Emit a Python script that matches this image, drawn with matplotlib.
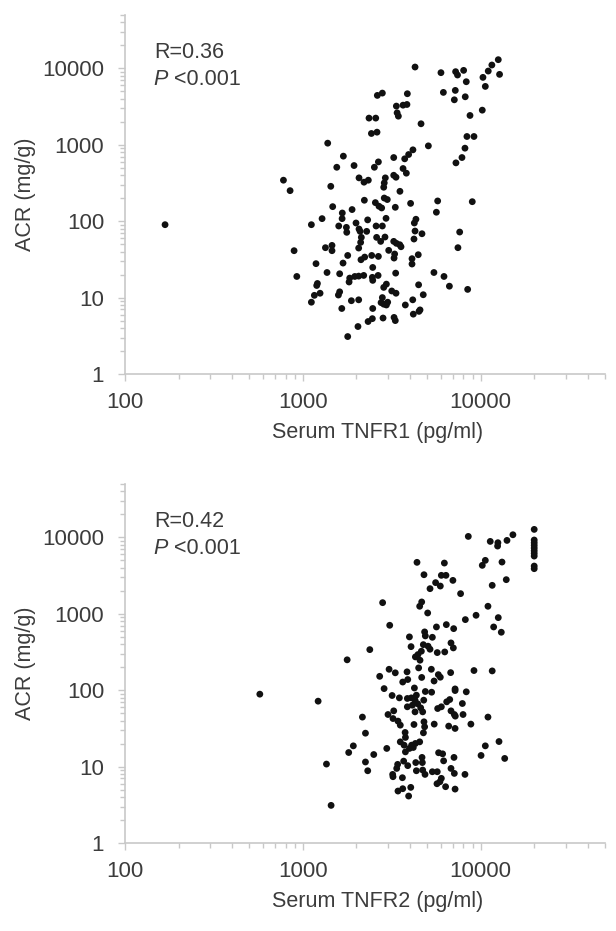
import matplotlib
matplotlib.use('Agg')
import matplotlib.pyplot as plt
from matplotlib.ticker import FixedLocator, LogLocator, NullFormatter

plt.rcParams['font.family'] = ['Liberation Sans', 'DejaVu Sans']

TEXT_COLOR = '#3c3c3c'
AXIS_COLOR = '#c8c8c8'

# serum TNFR1 (pg/ml) vs ACR (mg/g)
tnfr1 = [168, 778, 848, 893, 925,
         1117, 1117, 1161, 1197, 1208, 1250, 1186, 1283, 1340, 1368, 1380, 1436, 1459, 1459, 1472,
         1552, 1585, 1592, 1611, 1611, 1656, 1663, 1667, 1683, 1690, 1758, 1766, 1788, 1788, 1820,
         1835, 1875, 1892, 1941, 1960, 1991,
         2042, 2061, 2061, 2061, 2070, 2070, 2099, 2114, 2123, 2133, 2200, 2208, 2218, 2228, 2286,
         2315, 2328, 2335, 2356,
         2430, 2440, 2460, 2460, 2472, 2472, 2472, 2525, 2558, 2570, 2582, 2600, 2613, 2624, 2650,
         2660, 2660, 2680, 2740, 2754, 2775, 2800, 2800, 2800, 2825, 2850, 2850, 2850, 2870, 2870,
         2897, 2910, 2937, 2950, 2950, 2985, 3000,
         3040, 3162, 3244, 3244, 3244, 3258, 3258, 3283, 3311, 3311, 3327, 3342, 3342, 3357, 3357,
         3390, 3445, 3508, 3516, 3565, 3660, 3660, 3740, 3770, 3820, 3850, 3870, 3935,
         4036, 4111, 4111, 4150, 4160, 4180, 4217, 4236, 4276, 4276, 4325, 4457, 4477, 4500, 4560,
         4620, 4677, 4755, 5080, 5460, 5636, 5730, 5980,
         6170, 6220, 6670, 7110, 7200, 7230, 7260, 7410, 7450, 7620, 7850, 8020, 8160, 8190, 8300,
         8370, 8450, 8710, 8970, 9170,
         10210, 10300, 10620, 11030, 11560, 12560, 12770]
acr1 = [90, 344, 251, 41.1, 18.9,
        90, 8.7, 10.7, 14.4, 15.3, 11.4, 27.8, 108, 45, 21.3, 1050, 286, 48.2, 41.1, 155,
        508, 10.8, 86.5, 20.5, 11.9, 7.2, 108, 128, 28.3, 710, 83, 71.5, 35.6, 3.09, 16.0,
        18.0, 9.1, 142, 535, 18.9, 94.7,
        4.18, 44.5, 19.1, 9.35, 369, 79, 73.6, 52.8, 31.3, 61.4, 19.5, 324, 188, 33.9, 73.6,
        104, 4.86, 344, 2235,
        1406, 35.6, 18.4, 5.3, 24.8, 16.8, 7.2, 508, 175, 2235, 86.5, 61.4, 1463, 4430, 19.5,
        597, 34.6, 157, 54.4, 8.6, 149, 4750, 86.5, 10.0, 5.4, 278, 13.6, 8.2, 317, 201,
        62, 369, 109, 15.0, 8.0, 192, 8.7,
        41.5, 12.2, 681, 399, 54.4, 32.9, 5.5, 37.2, 152, 5.0, 20.9, 376, 11.4, 3210, 51.3,
        2620, 2370, 49.2, 246, 46.3, 3300, 489, 655, 8.0, 425, 3370, 4660, 746,
        171, 32.3, 27.5, 9.35, 859, 6.07, 58.4, 94.7, 10420, 74.3, 106, 36.4, 14.7, 6.6, 6.9,
        1884, 68.5, 10.9, 968, 21.3, 131, 184, 8790,
        4850, 18.9, 14.1, 3880, 5150, 9060, 580, 8190, 45, 72.1, 681, 9420, 903, 4250, 6690,
        1284, 12.8, 2420, 180, 1284,
        2840, 7630, 5810, 9230, 11070, 13000, 8350]

# serum TNFR2 (pg/ml) vs ACR (mg/g)
tnfr2 = [573, 1219, 1358, 1442, 1775, 1811, 1923,
         2163, 2250, 2250, 2317, 2380, 2505, 2705, 2810, 2864, 2965,
         3013, 3055, 3080, 3177, 3200, 3214, 3214, 3244, 3310, 3372, 3413, 3428, 3428, 3490,
         3532, 3532, 3630, 3645, 3645, 3690, 3710, 3760, 3775, 3775, 3855, 3870, 3870, 3890,
         3890, 3935, 3975, 3975,
         4045, 4060, 4075, 4090, 4130, 4180, 4217, 4240, 4275, 4275, 4295, 4295, 4315, 4350,
         4350, 4385, 4425, 4440, 4480, 4540, 4540, 4560, 4600, 4640, 4660, 4660, 4680, 4700,
         4720, 4720, 4760, 4765, 4785, 4800, 4800, 4840, 4840, 4865, 4885, 4885,
         5035, 5060, 5190, 5190, 5280, 5300, 5350, 5350, 5470, 5480, 5580, 5640, 5680, 5700,
         5700, 5730, 5780, 5800, 5900, 5930, 5930,
         6010, 6010, 6010, 6110, 6190, 6250, 6280, 6350, 6380, 6410, 6440, 6610, 6700, 6780,
         6810, 6810, 6810, 6980, 7020, 7050, 7080, 7110, 7110, 7180, 7180, 7180, 7180, 7200,
         7710, 7890, 7960,
         8160, 8200, 8300, 8520, 8810, 9170, 9420,
         10050, 10210, 10620, 10620, 10990, 10990, 11320, 11610, 11610, 11830, 12450, 12500,
         12560, 12680, 13060, 13180, 13650, 13930, 14060, 15180,
         20000, 20000, 20000, 20000, 20000, 20000, 20000, 20000, 20000, 20000]
acr2 = [88.8, 71.9, 10.8, 3.11, 250, 15.3, 18.7,
        44.5, 27.4, 11.5, 8.83, 340, 14.4, 152, 1400, 105, 17.3,
        48.1, 188, 708, 85.3, 7.91, 42.6, 7.38, 53.7, 169, 9.47, 10.7, 39.4, 4.79, 79.4,
        34.9, 21.1, 7.16, 128, 5.14, 11.8, 19.1, 28.0, 24.1, 15.6, 174, 78, 60.7, 138,
        10.3, 4.12, 499, 17.3,
        5.35, 372, 79.4, 19.1, 63.7, 17.8, 35.6, 107, 74.1, 52.1, 273, 20.1, 11.3, 86.1,
        8.83, 4720, 66.4, 293, 196, 1256, 21.1, 247, 58.8, 324, 1430, 147, 13.2, 11.3,
        52.1, 9.02, 395, 27.7, 74.1, 3250, 38.6, 580, 33.2, 7.91, 514, 96.2,
        1026, 377, 2135, 344, 188, 94.2, 493, 8.57, 132, 36, 2560, 673, 5.97, 311,
        8.57, 57.6, 160, 15.2, 6.34, 2310, 148,
        3190, 60.7, 7.02, 14.7, 11.9, 4620, 317, 5.46, 3190, 722, 70.5, 33.9, 75.5, 170,
        416, 53.7, 9.47, 2740, 358, 640, 13.2, 48.1, 8.15, 104, 99, 31.6, 5.08, 45.8,
        1837, 67, 48.1,
        7.91, 840, 95.3, 10310, 36, 181, 957,
        14.0, 4310, 5010, 18.7, 1256, 44.5, 8870, 2360, 179, 673, 7710, 8530,
        892, 21.3, 574, 4760, 12.8, 2800, 9140, 10840,
        12740, 9250, 8530, 7870, 7260, 6700, 6180, 5700, 4220, 3900]

x_ticks = [100, 1000, 10000]
y_ticks = [1, 10, 100, 1000, 10000]


def draw_panel(ax, x, y, xlabel, r_text):
    ax.scatter(x, y, s=24, color='#111111', edgecolors='none', zorder=3)
    ax.set_xscale('log')
    ax.set_yscale('log')
    ax.set_xlim(100, 50000)
    ax.set_ylim(1, 50000)

    ax.xaxis.set_major_locator(FixedLocator(x_ticks))
    ax.set_xticklabels([str(t) for t in x_ticks])
    ax.yaxis.set_major_locator(FixedLocator(y_ticks))
    ax.set_yticklabels([str(t) for t in y_ticks])
    ax.xaxis.set_minor_locator(LogLocator(base=10, subs=range(2, 10)))
    ax.yaxis.set_minor_locator(LogLocator(base=10, subs=range(2, 10)))
    ax.xaxis.set_minor_formatter(NullFormatter())
    ax.yaxis.set_minor_formatter(NullFormatter())

    for side in ['top', 'right']:
        ax.spines[side].set_visible(False)
    for side in ['left', 'bottom']:
        ax.spines[side].set_color(AXIS_COLOR)
        ax.spines[side].set_linewidth(1.2)

    ax.tick_params(which='major', length=5, width=1, color=AXIS_COLOR,
                   labelsize=16, labelcolor=TEXT_COLOR)
    ax.tick_params(which='minor', length=3.5, width=1, color=AXIS_COLOR)
    ax.tick_params(axis='y', which='major', pad=10)
    ax.tick_params(axis='x', which='major', pad=8)

    ax.set_xlabel(xlabel, fontsize=15.5, color=TEXT_COLOR)
    ax.set_ylabel('ACR (mg/g)', fontsize=15.5, color=TEXT_COLOR)
    ax.xaxis.set_label_coords(0.527, -0.135)
    ax.yaxis.set_label_coords(-0.185, 0.5)

    ax.text(0.06, 0.865, r_text, transform=ax.transAxes, fontsize=15.5,
            color=TEXT_COLOR, va='bottom')
    p = ax.text(0.06, 0.79, 'P', transform=ax.transAxes, fontsize=15.5,
                color=TEXT_COLOR, va='bottom', style='italic')
    ax.annotate(' <0.001', xy=(1, 0), xycoords=p, fontsize=15.5,
                color=TEXT_COLOR, va='bottom', ha='left')


fig = plt.figure(figsize=(6.16, 9.31), dpi=100)
ax1 = fig.add_axes([0.2029, 0.5983, 0.7792, 0.3856])
ax2 = fig.add_axes([0.2029, 0.0945, 0.7792, 0.3856])

draw_panel(ax1, tnfr1, acr1, 'Serum TNFR1 (pg/ml)', 'R=0.36')
draw_panel(ax2, tnfr2, acr2, 'Serum TNFR2 (pg/ml)', 'R=0.42')

fig.savefig('out.png', dpi=100)
